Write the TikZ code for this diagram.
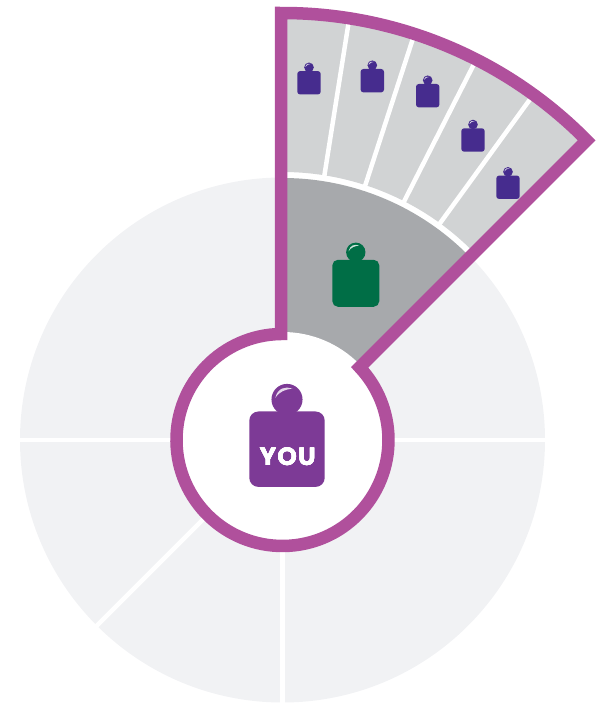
\documentclass[tikz,border=0pt]{standalone}
\usepackage{fontspec}
\newfontfamily\youfont[LetterSpace=4]{Poppins}
\definecolor{paledisc}{RGB}{241,242,244}
\definecolor{lightseg}{RGB}{209,211,212}
\definecolor{darkseg}{RGB}{167,169,172}
\definecolor{myoutline}{RGB}{176,80,156}
\definecolor{youweight}{RGB}{125,58,150}
\definecolor{smallweight}{RGB}{70,44,142}
\definecolor{bigweight}{RGB}{0,110,70}
% Gewicht: Position, Breite, Farbe
\newcommand{\weight}[3]{
	\begin{scope}[shift={#1}, x=#2pt, y=#2pt]
		\fill[#3, rounded corners=#2*0.12pt] (-.5,-.5) rectangle (.5,.5);
		\fill[#3] (0,.66) circle (.206);
		\fill[white, opacity=.8] (-.155,.68) .. controls (-.125,.815) and (-.02,.835) .. (.07,.805) .. controls (-.02,.79) and (-.1,.77) .. cycle;
	\end{scope}
}
\begin{document}
\begin{tikzpicture}[x=1pt, y=1pt,
		divider/.style={white, line width=4.5pt},
		font=\youfont\bfseries]
		\useasboundingbox (-282.5,-263) rectangle (313.5,440);
		% Scheibe
		\fill[paledisc] (0,0) circle (262.5);
		\foreach \a in {0,180,225,270} \draw[divider] (0,0) -- (\a:264);
		% Segmente
		\fill[white] (0,0) -- (45:268) arc[start angle=45, end angle=90, radius=268] -- cycle;
		\fill[lightseg] (45:268) -- (45:427) arc[start angle=45, end angle=90, radius=427] -- (90:268) arc[start angle=90, end angle=45, radius=268] -- cycle;
		\fill[darkseg] (0,0) -- (45:262) arc[start angle=45, end angle=90, radius=262] -- cycle;
		\foreach \a in {54,63,72,81} \draw[divider] (\a:266) -- (\a:425);
		% Innerer Kreis
		\fill[white] (0,0) circle (108);
		% Umriss
		\draw[myoutline, line width=12.5pt, miter limit=10] (-1.5,106) arc[start angle=90.8, end angle=403.3, radius=106] -- (44.57:427) arc[start angle=44.57, end angle=90.2, radius=427] -- cycle;
		% Gewichte
		\weight{(4.5,-9.2)}{75.4}{youweight}
		\weight{(73.3,156.7)}{47}{bigweight}
		\foreach \px/\py in {26.5/357.2,89.8/359.3,145.2/344.3,190.5/300,225.5/252.7} \weight{(\px,\py)}{23.4}{smallweight}
		\node[white, font=\youfont\bfseries\fontsize{25}{25}\selectfont, inner sep=0pt] (you) at (5.2,-16.7) {YOU};
	\end{tikzpicture}
\end{document}
